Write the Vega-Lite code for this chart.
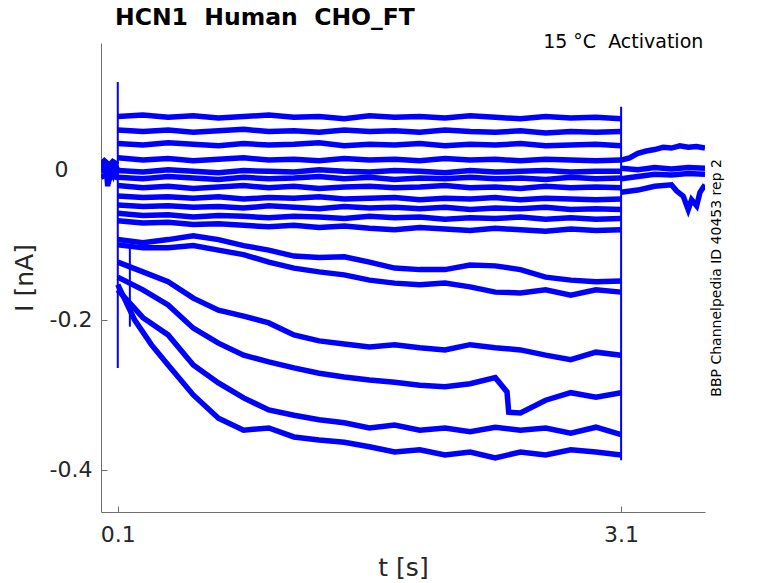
{
  "$schema": "https://vega.github.io/schema/vega-lite/v6.json",
  "width": 604,
  "height": 469,
  "autosize": {"type": "none"},
  "padding": {"left": 101, "top": 43, "right": 73, "bottom": 71},
  "background": "white",
  "config": {
    "font": "DejaVu Sans",
    "view": {"stroke": null},
    "axis": {
      "grid": false,
      "domainColor": "#6e6e6e",
      "tickColor": "#6e6e6e",
      "labelColor": "#262626",
      "titleColor": "#262626",
      "labelFont": "DejaVu Sans",
      "titleFont": "DejaVu Sans",
      "labelFontSize": 22,
      "titleFontSize": 25,
      "titleFontWeight": "normal",
      "tickSize": -6
    }
  },
  "title": {
    "text": "HCN1\u00a0 Human\u00a0 CHO_FT",
    "anchor": "start",
    "frame": "group",
    "dx": 14,
    "offset": -16,
    "baseline": "alphabetic",
    "fontSize": 23.5,
    "fontWeight": "bold",
    "color": "#000000"
  },
  "datasets": {
    "traces": [
      {"s": "s1", "t": 0.1, "i": 0.071}, {"s": "s1", "t": 0.25, "i": 0.073}, {"s": "s1", "t": 0.4, "i": 0.07}, {"s": "s1", "t": 0.55, "i": 0.072}, {"s": "s1", "t": 0.7, "i": 0.069}, {"s": "s1", "t": 0.85, "i": 0.071}, {"s": "s1", "t": 1.0, "i": 0.073}, {"s": "s1", "t": 1.15, "i": 0.07}, {"s": "s1", "t": 1.3, "i": 0.071}, {"s": "s1", "t": 1.45, "i": 0.068}, {"s": "s1", "t": 1.6, "i": 0.072}, {"s": "s1", "t": 1.75, "i": 0.07}, {"s": "s1", "t": 1.9, "i": 0.071}, {"s": "s1", "t": 2.05, "i": 0.069}, {"s": "s1", "t": 2.2, "i": 0.072}, {"s": "s1", "t": 2.35, "i": 0.07}, {"s": "s1", "t": 2.5, "i": 0.068}, {"s": "s1", "t": 2.65, "i": 0.071}, {"s": "s1", "t": 2.8, "i": 0.069}, {"s": "s1", "t": 2.95, "i": 0.07}, {"s": "s1", "t": 3.1, "i": 0.068},
      {"s": "s2", "t": 0.1, "i": 0.053}, {"s": "s2", "t": 0.25, "i": 0.051}, {"s": "s2", "t": 0.4, "i": 0.053}, {"s": "s2", "t": 0.55, "i": 0.05}, {"s": "s2", "t": 0.7, "i": 0.052}, {"s": "s2", "t": 0.85, "i": 0.054}, {"s": "s2", "t": 1.0, "i": 0.051}, {"s": "s2", "t": 1.15, "i": 0.052}, {"s": "s2", "t": 1.3, "i": 0.05}, {"s": "s2", "t": 1.45, "i": 0.053}, {"s": "s2", "t": 1.6, "i": 0.051}, {"s": "s2", "t": 1.75, "i": 0.052}, {"s": "s2", "t": 1.9, "i": 0.05}, {"s": "s2", "t": 2.05, "i": 0.053}, {"s": "s2", "t": 2.2, "i": 0.051}, {"s": "s2", "t": 2.35, "i": 0.05}, {"s": "s2", "t": 2.5, "i": 0.052}, {"s": "s2", "t": 2.65, "i": 0.049}, {"s": "s2", "t": 2.8, "i": 0.051}, {"s": "s2", "t": 2.95, "i": 0.05}, {"s": "s2", "t": 3.1, "i": 0.051},
      {"s": "s3", "t": 0.1, "i": 0.035}, {"s": "s3", "t": 0.25, "i": 0.033}, {"s": "s3", "t": 0.4, "i": 0.036}, {"s": "s3", "t": 0.55, "i": 0.034}, {"s": "s3", "t": 0.7, "i": 0.032}, {"s": "s3", "t": 0.85, "i": 0.035}, {"s": "s3", "t": 1.0, "i": 0.033}, {"s": "s3", "t": 1.15, "i": 0.034}, {"s": "s3", "t": 1.3, "i": 0.036}, {"s": "s3", "t": 1.45, "i": 0.032}, {"s": "s3", "t": 1.6, "i": 0.034}, {"s": "s3", "t": 1.75, "i": 0.033}, {"s": "s3", "t": 1.9, "i": 0.035}, {"s": "s3", "t": 2.05, "i": 0.032}, {"s": "s3", "t": 2.2, "i": 0.034}, {"s": "s3", "t": 2.35, "i": 0.033}, {"s": "s3", "t": 2.5, "i": 0.035}, {"s": "s3", "t": 2.65, "i": 0.032}, {"s": "s3", "t": 2.8, "i": 0.033}, {"s": "s3", "t": 2.95, "i": 0.034}, {"s": "s3", "t": 3.1, "i": 0.032},
      {"s": "s4", "t": 0.1, "i": 0.016}, {"s": "s4", "t": 0.25, "i": 0.013}, {"s": "s4", "t": 0.4, "i": 0.015}, {"s": "s4", "t": 0.55, "i": 0.012}, {"s": "s4", "t": 0.7, "i": 0.014}, {"s": "s4", "t": 0.85, "i": 0.016}, {"s": "s4", "t": 1.0, "i": 0.013}, {"s": "s4", "t": 1.15, "i": 0.014}, {"s": "s4", "t": 1.3, "i": 0.012}, {"s": "s4", "t": 1.45, "i": 0.015}, {"s": "s4", "t": 1.6, "i": 0.013}, {"s": "s4", "t": 1.75, "i": 0.014}, {"s": "s4", "t": 1.9, "i": 0.012}, {"s": "s4", "t": 2.05, "i": 0.015}, {"s": "s4", "t": 2.2, "i": 0.013}, {"s": "s4", "t": 2.35, "i": 0.014}, {"s": "s4", "t": 2.5, "i": 0.012}, {"s": "s4", "t": 2.65, "i": 0.014}, {"s": "s4", "t": 2.8, "i": 0.013}, {"s": "s4", "t": 2.95, "i": 0.012}, {"s": "s4", "t": 3.1, "i": 0.013},
      {"s": "s5", "t": 0.1, "i": -0.001}, {"s": "s5", "t": 0.25, "i": -0.003}, {"s": "s5", "t": 0.4, "i": 0.0}, {"s": "s5", "t": 0.55, "i": -0.002}, {"s": "s5", "t": 0.7, "i": -0.004}, {"s": "s5", "t": 0.85, "i": -0.001}, {"s": "s5", "t": 1.0, "i": -0.002}, {"s": "s5", "t": 1.15, "i": -0.003}, {"s": "s5", "t": 1.3, "i": 0.0}, {"s": "s5", "t": 1.45, "i": -0.002}, {"s": "s5", "t": 1.6, "i": -0.003}, {"s": "s5", "t": 1.75, "i": -0.001}, {"s": "s5", "t": 1.9, "i": -0.002}, {"s": "s5", "t": 2.05, "i": -0.004}, {"s": "s5", "t": 2.2, "i": -0.001}, {"s": "s5", "t": 2.35, "i": -0.003}, {"s": "s5", "t": 2.5, "i": -0.002}, {"s": "s5", "t": 2.65, "i": -0.001}, {"s": "s5", "t": 2.8, "i": -0.003}, {"s": "s5", "t": 2.95, "i": -0.002}, {"s": "s5", "t": 3.1, "i": -0.002},
      {"s": "s6", "t": 0.1, "i": -0.01}, {"s": "s6", "t": 0.25, "i": -0.012}, {"s": "s6", "t": 0.4, "i": -0.009}, {"s": "s6", "t": 0.55, "i": -0.011}, {"s": "s6", "t": 0.7, "i": -0.013}, {"s": "s6", "t": 0.85, "i": -0.01}, {"s": "s6", "t": 1.0, "i": -0.012}, {"s": "s6", "t": 1.15, "i": -0.011}, {"s": "s6", "t": 1.3, "i": -0.009}, {"s": "s6", "t": 1.45, "i": -0.012}, {"s": "s6", "t": 1.6, "i": -0.01}, {"s": "s6", "t": 1.75, "i": -0.013}, {"s": "s6", "t": 1.9, "i": -0.011}, {"s": "s6", "t": 2.05, "i": -0.012}, {"s": "s6", "t": 2.2, "i": -0.01}, {"s": "s6", "t": 2.35, "i": -0.012}, {"s": "s6", "t": 2.5, "i": -0.011}, {"s": "s6", "t": 2.65, "i": -0.013}, {"s": "s6", "t": 2.8, "i": -0.01}, {"s": "s6", "t": 2.95, "i": -0.012}, {"s": "s6", "t": 3.1, "i": -0.011},
      {"s": "s7", "t": 0.1, "i": -0.021}, {"s": "s7", "t": 0.25, "i": -0.024}, {"s": "s7", "t": 0.4, "i": -0.022}, {"s": "s7", "t": 0.55, "i": -0.025}, {"s": "s7", "t": 0.7, "i": -0.023}, {"s": "s7", "t": 0.85, "i": -0.021}, {"s": "s7", "t": 1.0, "i": -0.024}, {"s": "s7", "t": 1.15, "i": -0.022}, {"s": "s7", "t": 1.3, "i": -0.025}, {"s": "s7", "t": 1.45, "i": -0.023}, {"s": "s7", "t": 1.6, "i": -0.022}, {"s": "s7", "t": 1.75, "i": -0.024}, {"s": "s7", "t": 1.9, "i": -0.023}, {"s": "s7", "t": 2.05, "i": -0.021}, {"s": "s7", "t": 2.2, "i": -0.024}, {"s": "s7", "t": 2.35, "i": -0.023}, {"s": "s7", "t": 2.5, "i": -0.025}, {"s": "s7", "t": 2.65, "i": -0.022}, {"s": "s7", "t": 2.8, "i": -0.024}, {"s": "s7", "t": 2.95, "i": -0.023}, {"s": "s7", "t": 3.1, "i": -0.024},
      {"s": "s8", "t": 0.1, "i": -0.035}, {"s": "s8", "t": 0.25, "i": -0.037}, {"s": "s8", "t": 0.4, "i": -0.036}, {"s": "s8", "t": 0.55, "i": -0.038}, {"s": "s8", "t": 0.7, "i": -0.036}, {"s": "s8", "t": 0.85, "i": -0.039}, {"s": "s8", "t": 1.0, "i": -0.037}, {"s": "s8", "t": 1.15, "i": -0.038}, {"s": "s8", "t": 1.3, "i": -0.036}, {"s": "s8", "t": 1.45, "i": -0.039}, {"s": "s8", "t": 1.6, "i": -0.038}, {"s": "s8", "t": 1.75, "i": -0.037}, {"s": "s8", "t": 1.9, "i": -0.04}, {"s": "s8", "t": 2.05, "i": -0.038}, {"s": "s8", "t": 2.2, "i": -0.039}, {"s": "s8", "t": 2.35, "i": -0.037}, {"s": "s8", "t": 2.5, "i": -0.04}, {"s": "s8", "t": 2.65, "i": -0.038}, {"s": "s8", "t": 2.8, "i": -0.039}, {"s": "s8", "t": 2.95, "i": -0.04}, {"s": "s8", "t": 3.1, "i": -0.039},
      {"s": "s9", "t": 0.1, "i": -0.047}, {"s": "s9", "t": 0.25, "i": -0.049}, {"s": "s9", "t": 0.4, "i": -0.048}, {"s": "s9", "t": 0.55, "i": -0.05}, {"s": "s9", "t": 0.7, "i": -0.049}, {"s": "s9", "t": 0.85, "i": -0.051}, {"s": "s9", "t": 1.0, "i": -0.048}, {"s": "s9", "t": 1.15, "i": -0.05}, {"s": "s9", "t": 1.3, "i": -0.052}, {"s": "s9", "t": 1.45, "i": -0.049}, {"s": "s9", "t": 1.6, "i": -0.051}, {"s": "s9", "t": 1.75, "i": -0.05}, {"s": "s9", "t": 1.9, "i": -0.052}, {"s": "s9", "t": 2.05, "i": -0.05}, {"s": "s9", "t": 2.2, "i": -0.053}, {"s": "s9", "t": 2.35, "i": -0.051}, {"s": "s9", "t": 2.5, "i": -0.052}, {"s": "s9", "t": 2.65, "i": -0.05}, {"s": "s9", "t": 2.8, "i": -0.053}, {"s": "s9", "t": 2.95, "i": -0.052}, {"s": "s9", "t": 3.1, "i": -0.053},
      {"s": "s10", "t": 0.1, "i": -0.058}, {"s": "s10", "t": 0.25, "i": -0.061}, {"s": "s10", "t": 0.4, "i": -0.06}, {"s": "s10", "t": 0.55, "i": -0.063}, {"s": "s10", "t": 0.7, "i": -0.061}, {"s": "s10", "t": 0.85, "i": -0.062}, {"s": "s10", "t": 1.0, "i": -0.064}, {"s": "s10", "t": 1.15, "i": -0.062}, {"s": "s10", "t": 1.3, "i": -0.063}, {"s": "s10", "t": 1.45, "i": -0.065}, {"s": "s10", "t": 1.6, "i": -0.062}, {"s": "s10", "t": 1.75, "i": -0.064}, {"s": "s10", "t": 1.9, "i": -0.063}, {"s": "s10", "t": 2.05, "i": -0.066}, {"s": "s10", "t": 2.2, "i": -0.064}, {"s": "s10", "t": 2.35, "i": -0.065}, {"s": "s10", "t": 2.5, "i": -0.063}, {"s": "s10", "t": 2.65, "i": -0.066}, {"s": "s10", "t": 2.8, "i": -0.064}, {"s": "s10", "t": 2.95, "i": -0.066}, {"s": "s10", "t": 3.1, "i": -0.065},
      {"s": "s11", "t": 0.1, "i": -0.068}, {"s": "s11", "t": 0.25, "i": -0.071}, {"s": "s11", "t": 0.4, "i": -0.07}, {"s": "s11", "t": 0.55, "i": -0.073}, {"s": "s11", "t": 0.7, "i": -0.072}, {"s": "s11", "t": 0.85, "i": -0.074}, {"s": "s11", "t": 1.0, "i": -0.076}, {"s": "s11", "t": 1.15, "i": -0.074}, {"s": "s11", "t": 1.3, "i": -0.077}, {"s": "s11", "t": 1.45, "i": -0.075}, {"s": "s11", "t": 1.6, "i": -0.078}, {"s": "s11", "t": 1.75, "i": -0.08}, {"s": "s11", "t": 1.9, "i": -0.077}, {"s": "s11", "t": 2.05, "i": -0.079}, {"s": "s11", "t": 2.2, "i": -0.081}, {"s": "s11", "t": 2.35, "i": -0.078}, {"s": "s11", "t": 2.5, "i": -0.08}, {"s": "s11", "t": 2.65, "i": -0.082}, {"s": "s11", "t": 2.8, "i": -0.079}, {"s": "s11", "t": 2.95, "i": -0.081}, {"s": "s11", "t": 3.1, "i": -0.08},
      {"s": "e", "t": 0.1, "i": -0.093}, {"s": "e", "t": 0.25, "i": -0.097}, {"s": "e", "t": 0.4, "i": -0.093}, {"s": "e", "t": 0.55, "i": -0.088}, {"s": "e", "t": 0.7, "i": -0.093}, {"s": "e", "t": 0.85, "i": -0.101}, {"s": "e", "t": 1.0, "i": -0.107}, {"s": "e", "t": 1.15, "i": -0.115}, {"s": "e", "t": 1.3, "i": -0.117}, {"s": "e", "t": 1.45, "i": -0.116}, {"s": "e", "t": 1.6, "i": -0.123}, {"s": "e", "t": 1.75, "i": -0.131}, {"s": "e", "t": 1.9, "i": -0.133}, {"s": "e", "t": 2.05, "i": -0.133}, {"s": "e", "t": 2.2, "i": -0.127}, {"s": "e", "t": 2.35, "i": -0.128}, {"s": "e", "t": 2.5, "i": -0.133}, {"s": "e", "t": 2.65, "i": -0.143}, {"s": "e", "t": 2.8, "i": -0.147}, {"s": "e", "t": 2.95, "i": -0.149}, {"s": "e", "t": 3.1, "i": -0.148},
      {"s": "f", "t": 0.1, "i": -0.1}, {"s": "f", "t": 0.25, "i": -0.104}, {"s": "f", "t": 0.4, "i": -0.104}, {"s": "f", "t": 0.55, "i": -0.101}, {"s": "f", "t": 0.7, "i": -0.107}, {"s": "f", "t": 0.85, "i": -0.113}, {"s": "f", "t": 1.0, "i": -0.123}, {"s": "f", "t": 1.15, "i": -0.131}, {"s": "f", "t": 1.3, "i": -0.136}, {"s": "f", "t": 1.45, "i": -0.14}, {"s": "f", "t": 1.6, "i": -0.147}, {"s": "f", "t": 1.75, "i": -0.151}, {"s": "f", "t": 1.9, "i": -0.153}, {"s": "f", "t": 2.05, "i": -0.151}, {"s": "f", "t": 2.2, "i": -0.156}, {"s": "f", "t": 2.35, "i": -0.163}, {"s": "f", "t": 2.5, "i": -0.164}, {"s": "f", "t": 2.65, "i": -0.16}, {"s": "f", "t": 2.8, "i": -0.167}, {"s": "f", "t": 2.95, "i": -0.16}, {"s": "f", "t": 3.1, "i": -0.163},
      {"s": "a", "t": 0.1, "i": -0.123}, {"s": "a", "t": 0.25, "i": -0.136}, {"s": "a", "t": 0.4, "i": -0.149}, {"s": "a", "t": 0.55, "i": -0.171}, {"s": "a", "t": 0.7, "i": -0.187}, {"s": "a", "t": 0.85, "i": -0.195}, {"s": "a", "t": 1.0, "i": -0.204}, {"s": "a", "t": 1.15, "i": -0.22}, {"s": "a", "t": 1.3, "i": -0.228}, {"s": "a", "t": 1.45, "i": -0.232}, {"s": "a", "t": 1.6, "i": -0.236}, {"s": "a", "t": 1.75, "i": -0.233}, {"s": "a", "t": 1.9, "i": -0.237}, {"s": "a", "t": 2.05, "i": -0.24}, {"s": "a", "t": 2.2, "i": -0.233}, {"s": "a", "t": 2.35, "i": -0.237}, {"s": "a", "t": 2.5, "i": -0.24}, {"s": "a", "t": 2.65, "i": -0.247}, {"s": "a", "t": 2.8, "i": -0.253}, {"s": "a", "t": 2.95, "i": -0.243}, {"s": "a", "t": 3.1, "i": -0.247},
      {"s": "b", "t": 0.1, "i": -0.143}, {"s": "b", "t": 0.25, "i": -0.16}, {"s": "b", "t": 0.4, "i": -0.18}, {"s": "b", "t": 0.55, "i": -0.211}, {"s": "b", "t": 0.7, "i": -0.231}, {"s": "b", "t": 0.85, "i": -0.247}, {"s": "b", "t": 1.0, "i": -0.256}, {"s": "b", "t": 1.15, "i": -0.264}, {"s": "b", "t": 1.3, "i": -0.271}, {"s": "b", "t": 1.45, "i": -0.276}, {"s": "b", "t": 1.6, "i": -0.28}, {"s": "b", "t": 1.75, "i": -0.283}, {"s": "b", "t": 1.9, "i": -0.287}, {"s": "b", "t": 2.05, "i": -0.289}, {"s": "b", "t": 2.2, "i": -0.285}, {"s": "b", "t": 2.35, "i": -0.277}, {"s": "b", "t": 2.42, "i": -0.296}, {"s": "b", "t": 2.43, "i": -0.323}, {"s": "b", "t": 2.5, "i": -0.324}, {"s": "b", "t": 2.65, "i": -0.307}, {"s": "b", "t": 2.8, "i": -0.297}, {"s": "b", "t": 2.95, "i": -0.303}, {"s": "b", "t": 3.1, "i": -0.297},
      {"s": "c", "t": 0.1, "i": -0.16}, {"s": "c", "t": 0.25, "i": -0.197}, {"s": "c", "t": 0.4, "i": -0.22}, {"s": "c", "t": 0.55, "i": -0.26}, {"s": "c", "t": 0.7, "i": -0.284}, {"s": "c", "t": 0.85, "i": -0.304}, {"s": "c", "t": 1.0, "i": -0.32}, {"s": "c", "t": 1.15, "i": -0.327}, {"s": "c", "t": 1.3, "i": -0.333}, {"s": "c", "t": 1.45, "i": -0.337}, {"s": "c", "t": 1.6, "i": -0.344}, {"s": "c", "t": 1.75, "i": -0.34}, {"s": "c", "t": 1.9, "i": -0.347}, {"s": "c", "t": 2.05, "i": -0.344}, {"s": "c", "t": 2.2, "i": -0.349}, {"s": "c", "t": 2.35, "i": -0.343}, {"s": "c", "t": 2.5, "i": -0.347}, {"s": "c", "t": 2.65, "i": -0.344}, {"s": "c", "t": 2.8, "i": -0.351}, {"s": "c", "t": 2.95, "i": -0.343}, {"s": "c", "t": 3.1, "i": -0.353},
      {"s": "d", "t": 0.1, "i": -0.153}, {"s": "d", "t": 0.2, "i": -0.2}, {"s": "d", "t": 0.3, "i": -0.233}, {"s": "d", "t": 0.4, "i": -0.26}, {"s": "d", "t": 0.55, "i": -0.3}, {"s": "d", "t": 0.7, "i": -0.331}, {"s": "d", "t": 0.85, "i": -0.347}, {"s": "d", "t": 1.0, "i": -0.344}, {"s": "d", "t": 1.15, "i": -0.356}, {"s": "d", "t": 1.3, "i": -0.36}, {"s": "d", "t": 1.45, "i": -0.363}, {"s": "d", "t": 1.6, "i": -0.369}, {"s": "d", "t": 1.75, "i": -0.376}, {"s": "d", "t": 1.9, "i": -0.373}, {"s": "d", "t": 2.05, "i": -0.38}, {"s": "d", "t": 2.2, "i": -0.376}, {"s": "d", "t": 2.35, "i": -0.384}, {"s": "d", "t": 2.5, "i": -0.376}, {"s": "d", "t": 2.65, "i": -0.38}, {"s": "d", "t": 2.8, "i": -0.373}, {"s": "d", "t": 2.95, "i": -0.376}, {"s": "d", "t": 3.1, "i": -0.38},
      {"s": "p1", "t": 0.0, "i": 0.0}, {"s": "p1", "t": 0.01, "i": 0.004}, {"s": "p1", "t": 0.02, "i": -0.004}, {"s": "p1", "t": 0.03, "i": 0.006}, {"s": "p1", "t": 0.035, "i": -0.008}, {"s": "p1", "t": 0.04, "i": -0.022}, {"s": "p1", "t": 0.045, "i": 0.002}, {"s": "p1", "t": 0.055, "i": -0.005}, {"s": "p1", "t": 0.065, "i": 0.006}, {"s": "p1", "t": 0.075, "i": -0.003}, {"s": "p1", "t": 0.085, "i": 0.005}, {"s": "p1", "t": 0.1, "i": 0.0},
      {"s": "p2", "t": 0.0, "i": -0.003}, {"s": "p2", "t": 0.02, "i": 0.003}, {"s": "p2", "t": 0.04, "i": -0.005}, {"s": "p2", "t": 0.06, "i": 0.003}, {"s": "p2", "t": 0.08, "i": -0.004}, {"s": "p2", "t": 0.1, "i": -0.002},
      {"s": "p3", "t": 0.0, "i": 0.008}, {"s": "p3", "t": 0.02, "i": 0.012}, {"s": "p3", "t": 0.05, "i": 0.006}, {"s": "p3", "t": 0.07, "i": 0.011}, {"s": "p3", "t": 0.1, "i": 0.007},
      {"s": "p4", "t": 0.0, "i": -0.01}, {"s": "p4", "t": 0.025, "i": -0.007}, {"s": "p4", "t": 0.05, "i": -0.012}, {"s": "p4", "t": 0.075, "i": -0.008}, {"s": "p4", "t": 0.1, "i": -0.011},
      {"s": "u1", "t": 3.1, "i": 0.013}, {"s": "u1", "t": 3.15, "i": 0.016}, {"s": "u1", "t": 3.2, "i": 0.022}, {"s": "u1", "t": 3.25, "i": 0.025}, {"s": "u1", "t": 3.3, "i": 0.027}, {"s": "u1", "t": 3.35, "i": 0.03}, {"s": "u1", "t": 3.4, "i": 0.029}, {"s": "u1", "t": 3.45, "i": 0.032}, {"s": "u1", "t": 3.5, "i": 0.03}, {"s": "u1", "t": 3.55, "i": 0.031}, {"s": "u1", "t": 3.6, "i": 0.029},
      {"s": "u2", "t": 3.1, "i": 0.002}, {"s": "u2", "t": 3.2, "i": 0.0}, {"s": "u2", "t": 3.3, "i": 0.003}, {"s": "u2", "t": 3.4, "i": 0.001}, {"s": "u2", "t": 3.5, "i": 0.003}, {"s": "u2", "t": 3.6, "i": 0.002},
      {"s": "u3", "t": 3.1, "i": -0.012}, {"s": "u3", "t": 3.2, "i": -0.009}, {"s": "u3", "t": 3.3, "i": -0.006}, {"s": "u3", "t": 3.4, "i": -0.007}, {"s": "u3", "t": 3.5, "i": -0.005}, {"s": "u3", "t": 3.6, "i": -0.006},
      {"s": "u4", "t": 3.1, "i": -0.03}, {"s": "u4", "t": 3.2, "i": -0.027}, {"s": "u4", "t": 3.3, "i": -0.022}, {"s": "u4", "t": 3.4, "i": -0.02}, {"s": "u4", "t": 3.43, "i": -0.028}, {"s": "u4", "t": 3.47, "i": -0.035}, {"s": "u4", "t": 3.5, "i": -0.053}, {"s": "u4", "t": 3.52, "i": -0.04}, {"s": "u4", "t": 3.55, "i": -0.048}, {"s": "u4", "t": 3.57, "i": -0.03}, {"s": "u4", "t": 3.6, "i": -0.02}
    ],
    "spikes": [
      {"t": 0.1, "lo": -0.264, "hi": 0.117},
      {"t": 0.172, "lo": -0.209, "hi": -0.103},
      {"t": 3.1, "lo": -0.387, "hi": 0.084}
    ],
    "notes": [
      {"label": "15 °C\u00a0 Activation", "t": 3.59, "i": 0.163}
    ],
    "side": [
      {"label": "BBP Channelpedia ID 40453 rep 2", "t": 3.672, "i": -0.144}
    ]
  },
  "layer": [
    {
      "data": {"name": "traces"},
      "mark": {"type": "line", "color": "#0000ff", "strokeWidth": 5.5, "clip": true},
      "encoding": {
        "x": {
          "field": "t",
          "type": "quantitative",
          "scale": {"domain": [0, 3.6], "nice": false, "zero": false},
          "axis": {"values": [0.1, 3.1], "format": ".1f", "title": "t [s]", "labelPadding": 18, "titlePadding": 10}
        },
        "y": {
          "field": "i",
          "type": "quantitative",
          "scale": {"domain": [-0.456, 0.169], "nice": false, "zero": false},
          "axis": {
            "values": [-0.4, -0.2, 0],
            "labelExpr": "datum.value == 0 ? '0' : '-' + format(-datum.value, '.1f')",
            "labelPadding": {"condition": {"test": "datum.value == 0", "value": 39}, "value": 15},
            "title": "I [nA]",
            "titlePadding": 12
          }
        },
        "detail": {"field": "s"}
      }
    },
    {
      "data": {"name": "spikes"},
      "mark": {"type": "rule", "color": "#0000ff", "strokeWidth": 2},
      "encoding": {
        "x": {"field": "t", "type": "quantitative"},
        "y": {"field": "lo", "type": "quantitative"},
        "y2": {"field": "hi"}
      }
    },
    {
      "data": {"name": "notes"},
      "mark": {"type": "text", "align": "right", "baseline": "alphabetic", "fontSize": 19, "color": "#000000", "font": "DejaVu Sans"},
      "encoding": {
        "x": {"field": "t", "type": "quantitative"},
        "y": {"field": "i", "type": "quantitative"},
        "text": {"field": "label"}
      }
    },
    {
      "data": {"name": "side"},
      "mark": {"type": "text", "align": "center", "baseline": "middle", "angle": 270, "fontSize": 14, "color": "#000000", "font": "DejaVu Sans"},
      "encoding": {
        "x": {"field": "t", "type": "quantitative"},
        "y": {"field": "i", "type": "quantitative"},
        "text": {"field": "label"}
      }
    }
  ]
}
